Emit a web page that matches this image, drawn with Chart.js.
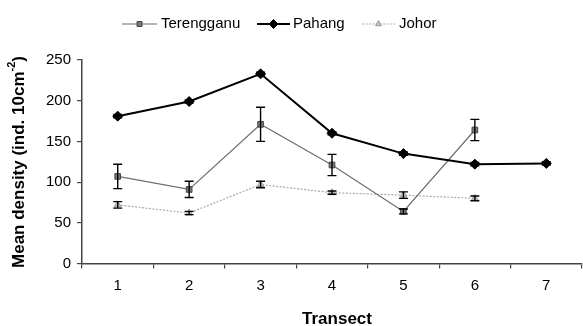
<!DOCTYPE html>
<html><head><meta charset="utf-8">
<script src="https://cdn.jsdelivr.net/npm/chart.js@4"></script>
<style>html,body{margin:0;padding:0;background:#fff}#w{width:583px;height:326px}</style>
</head><body><div id="w"><canvas id="c" width="583" height="326"></canvas></div>
<script>
const categories = ['1','2','3','4','5','6','7'];
const terengganu = [107, 91, 171, 121, 64, 164, null];
const terengganuErr = [15, 10, 21, 13, 3, 13, null];
const pahang = [181, 199, 233, 160, 135, 122, 123];
const pahangErr = [2, 2, 2, 2, 2, 2, 2];
const johor = [72, 62, 97, 87, 84, 80, null];
const johorErr = [4, 2, 4, 2, 4, 3, null];
const yTicks = [0, 50, 100, 150, 200, 250];
const seriesNames = ['Terengganu', 'Pahang', 'Johor'];
const xTitle = 'Transect';
const yTitleMain = 'Mean density (ind. 10cm';
const yTitleSup = '-2';
const yTitleEnd = ')';

const FONT = '"Liberation Sans", Arial, sans-serif';
const styles = [
  {line:'#6e6e6e', point:'#7a7a7a', pborder:'#444', width:1.2, dash:[], pstyle:'rect', r:4},
  {line:'#000', point:'#000', pborder:'#000', width:2, dash:[], pstyle:'rectRot', r:5},
  {line:'#aaaaaa', point:'#c4c4c4', pborder:'#999', width:1.2, dash:[2,1.5], pstyle:'triangle', r:4}
];
const values = [terengganu, pahang, johor];
const errs = [terengganuErr, pahangErr, johorErr];

const errPlugin = {
  id:'errbars',
  afterDatasetsDraw(chart){
    const ctx = chart.ctx, ys = chart.scales.y, xs = chart.scales.x;
    ctx.save();
    ctx.strokeStyle = '#000'; ctx.lineWidth = 1.4;
    values.forEach((vals, i) => {
      vals.forEach((v, j) => {
        const e = errs[i][j];
        if (v == null || e == null) return;
        const x = xs.getPixelForValue(j);
        const y1 = ys.getPixelForValue(v + e), y2 = ys.getPixelForValue(v - e);
        ctx.beginPath();
        ctx.moveTo(x, y1); ctx.lineTo(x, y2);
        ctx.moveTo(x - 4.5, y1); ctx.lineTo(x + 4.5, y1);
        ctx.moveTo(x - 4.5, y2); ctx.lineTo(x + 4.5, y2);
        ctx.stroke();
      });
    });
    ctx.restore();
  }
};

const decoPlugin = {
  id:'deco',
  afterDraw(chart){
    const ctx = chart.ctx, ca = chart.chartArea;
    ctx.save();
    const items = [
      {x0:122, x1:157, tx:161},
      {x0:257, x1:290, tx:293},
      {x0:362, x1:395, tx:399}
    ];
    const ly = 24;
    items.forEach((it, i) => {
      const s = styles[i];
      ctx.strokeStyle = s.line; ctx.lineWidth = s.width; ctx.setLineDash(s.dash);
      ctx.beginPath(); ctx.moveTo(it.x0, ly); ctx.lineTo(it.x1, ly); ctx.stroke();
      ctx.setLineDash([]);
      ctx.fillStyle = s.point; ctx.strokeStyle = s.pborder; ctx.lineWidth = 1;
      Chart.helpers.drawPoint(ctx, {pointStyle:s.pstyle, radius:s.r-0.5, borderWidth:1}, (it.x0+it.x1)/2, ly);
      ctx.fillStyle = '#000'; ctx.font = '15px ' + FONT;
      ctx.textBaseline = 'middle'; ctx.textAlign = 'left';
      ctx.fillText(seriesNames[i], it.tx, ly);
    });
    ctx.fillStyle = '#000';
    ctx.font = 'bold 17px ' + FONT;
    ctx.textAlign = 'center'; ctx.textBaseline = 'middle';
    ctx.fillText(xTitle, (ca.left + ca.right) / 2 + 5, 319);
    ctx.translate(19, 162);
    ctx.rotate(-Math.PI / 2);
    ctx.font = 'bold 17px ' + FONT;
    const w1 = ctx.measureText(yTitleMain).width;
    ctx.font = 'bold 11px ' + FONT;
    const w2 = ctx.measureText(yTitleSup).width;
    ctx.font = 'bold 17px ' + FONT;
    const w3 = ctx.measureText(yTitleEnd).width;
    let x = -(w1 + w2 + w3) / 2;
    ctx.textAlign = 'left';
    ctx.fillText(yTitleMain, x, 0); x += w1;
    ctx.font = 'bold 11px ' + FONT;
    ctx.fillText(yTitleSup, x, -7); x += w2;
    ctx.font = 'bold 17px ' + FONT;
    ctx.fillText(yTitleEnd, x, 0);
    ctx.restore();
  }
};

new Chart(document.getElementById('c'), {
  type:'line',
  data:{
    labels:categories,
    datasets: values.map((vals, i) => ({
      label:seriesNames[i],
      data:vals,
      borderColor:styles[i].line,
      borderWidth:styles[i].width,
      borderDash:styles[i].dash,
      pointStyle:styles[i].pstyle,
      pointRadius:styles[i].r,
      pointBackgroundColor:styles[i].point,
      pointBorderColor:styles[i].pborder,
      pointBorderWidth:1,
      tension:0,
      spanGaps:false,
      order: i === 1 ? 0 : 1
    }))
  },
  options:{
    responsive:false,
    animation:false,
    devicePixelRatio:1,
    layout:{autoPadding:false, padding:{top:60, right:1, left:0, bottom:0}},
    plugins:{legend:{display:false}, tooltip:{enabled:false}},
    scales:{
      x:{
        offset:true,
        grid:{offset:true, drawOnChartArea:false, drawTicks:true, tickLength:5, color:'#444', lineWidth:1.2},
        border:{color:'#444', width:1.5},
        ticks:{color:'#000', font:{family:FONT, size:15}, padding:8},
        afterFit(s){ s.height = 326 - 263.5; }
      },
      y:{
        min:0, max:250,
        afterBuildTicks(s){ s.ticks = yTicks.map(v => ({value:v})); },
        grid:{drawOnChartArea:false, drawTicks:true, tickLength:5, color:'#444', lineWidth:1.2},
        border:{color:'#444', width:1.5},
        ticks:{color:'#000', font:{family:FONT, size:15}, padding:6},
        afterFit(s){ s.width = 82; }
      }
    }
  },
  plugins:[errPlugin, decoPlugin]
});
</script>
</body></html>
